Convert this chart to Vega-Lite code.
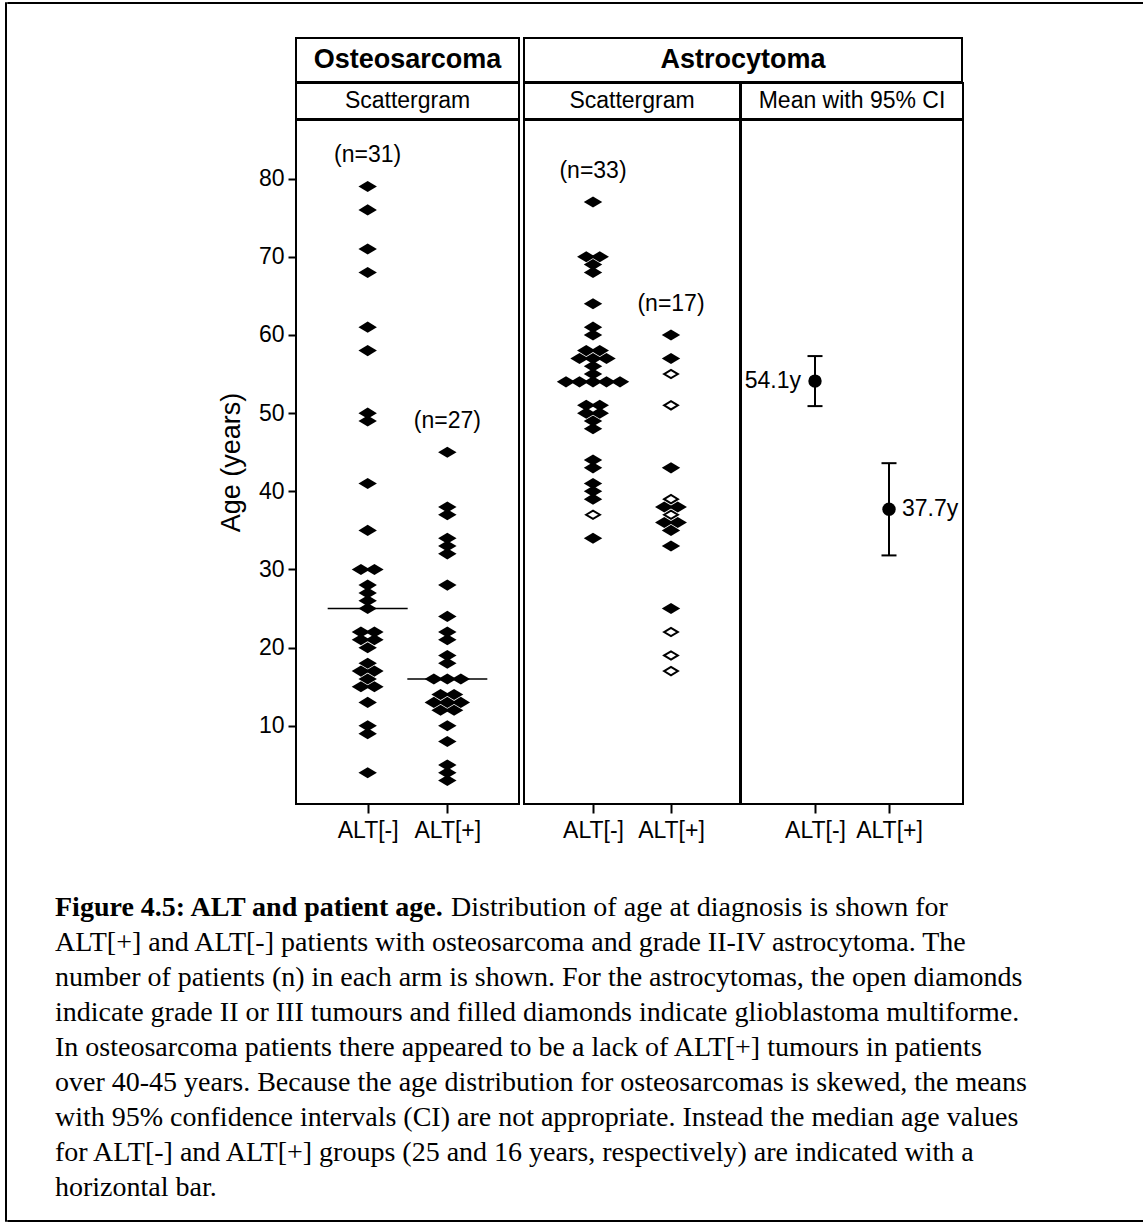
{
  "$schema": "https://vega.github.io/schema/vega-lite/v6.json",
  "background": "white",
  "padding": {"left": 4, "top": 1, "right": 0, "bottom": 0},
  "datasets": {
    "osteo": [
      {"g": "ALT[-]", "age": 79}, {"g": "ALT[-]", "age": 76}, {"g": "ALT[-]", "age": 71}, {"g": "ALT[-]", "age": 68},
      {"g": "ALT[-]", "age": 61}, {"g": "ALT[-]", "age": 58}, {"g": "ALT[-]", "age": 50}, {"g": "ALT[-]", "age": 49},
      {"g": "ALT[-]", "age": 41}, {"g": "ALT[-]", "age": 35}, {"g": "ALT[-]", "age": 30}, {"g": "ALT[-]", "age": 30},
      {"g": "ALT[-]", "age": 28}, {"g": "ALT[-]", "age": 27}, {"g": "ALT[-]", "age": 26}, {"g": "ALT[-]", "age": 25},
      {"g": "ALT[-]", "age": 22}, {"g": "ALT[-]", "age": 22}, {"g": "ALT[-]", "age": 21}, {"g": "ALT[-]", "age": 21},
      {"g": "ALT[-]", "age": 20}, {"g": "ALT[-]", "age": 18}, {"g": "ALT[-]", "age": 17}, {"g": "ALT[-]", "age": 17},
      {"g": "ALT[-]", "age": 16}, {"g": "ALT[-]", "age": 15}, {"g": "ALT[-]", "age": 15}, {"g": "ALT[-]", "age": 13},
      {"g": "ALT[-]", "age": 10}, {"g": "ALT[-]", "age": 9}, {"g": "ALT[-]", "age": 4},
      {"g": "ALT[+]", "age": 45}, {"g": "ALT[+]", "age": 38}, {"g": "ALT[+]", "age": 37}, {"g": "ALT[+]", "age": 34},
      {"g": "ALT[+]", "age": 33}, {"g": "ALT[+]", "age": 32}, {"g": "ALT[+]", "age": 28}, {"g": "ALT[+]", "age": 24},
      {"g": "ALT[+]", "age": 22}, {"g": "ALT[+]", "age": 21}, {"g": "ALT[+]", "age": 19}, {"g": "ALT[+]", "age": 18},
      {"g": "ALT[+]", "age": 16}, {"g": "ALT[+]", "age": 16}, {"g": "ALT[+]", "age": 16}, {"g": "ALT[+]", "age": 14},
      {"g": "ALT[+]", "age": 14}, {"g": "ALT[+]", "age": 13}, {"g": "ALT[+]", "age": 13}, {"g": "ALT[+]", "age": 13},
      {"g": "ALT[+]", "age": 12}, {"g": "ALT[+]", "age": 12}, {"g": "ALT[+]", "age": 10}, {"g": "ALT[+]", "age": 8},
      {"g": "ALT[+]", "age": 5}, {"g": "ALT[+]", "age": 4}, {"g": "ALT[+]", "age": 3}
    ],
    "astro": [
      {"g": "ALT[-]", "age": 77, "grade": "GBM"}, {"g": "ALT[-]", "age": 70, "grade": "GBM"}, {"g": "ALT[-]", "age": 70, "grade": "GBM"},
      {"g": "ALT[-]", "age": 69, "grade": "GBM"}, {"g": "ALT[-]", "age": 68, "grade": "GBM"}, {"g": "ALT[-]", "age": 64, "grade": "GBM"},
      {"g": "ALT[-]", "age": 61, "grade": "GBM"}, {"g": "ALT[-]", "age": 60, "grade": "GBM"}, {"g": "ALT[-]", "age": 58, "grade": "GBM"},
      {"g": "ALT[-]", "age": 58, "grade": "GBM"}, {"g": "ALT[-]", "age": 57, "grade": "GBM"}, {"g": "ALT[-]", "age": 57, "grade": "GBM"},
      {"g": "ALT[-]", "age": 57, "grade": "GBM"}, {"g": "ALT[-]", "age": 56, "grade": "GBM"}, {"g": "ALT[-]", "age": 55, "grade": "GBM"},
      {"g": "ALT[-]", "age": 54, "grade": "GBM"}, {"g": "ALT[-]", "age": 54, "grade": "GBM"}, {"g": "ALT[-]", "age": 54, "grade": "GBM"},
      {"g": "ALT[-]", "age": 54, "grade": "GBM"}, {"g": "ALT[-]", "age": 54, "grade": "GBM"}, {"g": "ALT[-]", "age": 51, "grade": "GBM"},
      {"g": "ALT[-]", "age": 51, "grade": "GBM"}, {"g": "ALT[-]", "age": 50, "grade": "GBM"}, {"g": "ALT[-]", "age": 50, "grade": "GBM"},
      {"g": "ALT[-]", "age": 49, "grade": "GBM"}, {"g": "ALT[-]", "age": 48, "grade": "GBM"}, {"g": "ALT[-]", "age": 44, "grade": "GBM"},
      {"g": "ALT[-]", "age": 43, "grade": "GBM"}, {"g": "ALT[-]", "age": 41, "grade": "GBM"}, {"g": "ALT[-]", "age": 40, "grade": "GBM"},
      {"g": "ALT[-]", "age": 39, "grade": "GBM"}, {"g": "ALT[-]", "age": 37, "grade": "II/III"}, {"g": "ALT[-]", "age": 34, "grade": "GBM"},
      {"g": "ALT[+]", "age": 60, "grade": "GBM"}, {"g": "ALT[+]", "age": 57, "grade": "GBM"}, {"g": "ALT[+]", "age": 55, "grade": "II/III"},
      {"g": "ALT[+]", "age": 51, "grade": "II/III"}, {"g": "ALT[+]", "age": 43, "grade": "GBM"}, {"g": "ALT[+]", "age": 39, "grade": "II/III"},
      {"g": "ALT[+]", "age": 38, "grade": "GBM"}, {"g": "ALT[+]", "age": 38, "grade": "GBM"}, {"g": "ALT[+]", "age": 37, "grade": "II/III"},
      {"g": "ALT[+]", "age": 36, "grade": "GBM"}, {"g": "ALT[+]", "age": 36, "grade": "GBM"}, {"g": "ALT[+]", "age": 35, "grade": "GBM"},
      {"g": "ALT[+]", "age": 33, "grade": "GBM"}, {"g": "ALT[+]", "age": 25, "grade": "GBM"}, {"g": "ALT[+]", "age": 22, "grade": "II/III"},
      {"g": "ALT[+]", "age": 19, "grade": "II/III"}, {"g": "ALT[+]", "age": 17, "grade": "II/III"}
    ],
    "astroMean": [
      {"g": "ALT[-]", "mean": 54.1, "lo": 50.9, "hi": 57.3},
      {"g": "ALT[+]", "mean": 37.7, "lo": 31.8, "hi": 43.6}
    ],
    "capLead": [{"line": 1, "text": "Figure 4.5: ALT and patient age."}],
    "capRest": [{"line": 1, "text": "Distribution of age at diagnosis is shown for"}],
    "capBody": [
      {"line": 2, "text": "ALT[+] and ALT[-] patients with osteosarcoma and grade II-IV astrocytoma. The"},
      {"line": 3, "text": "number of patients (n) in each arm is shown. For the astrocytomas, the open diamonds"},
      {"line": 4, "text": "indicate grade II or III tumours and filled diamonds indicate glioblastoma multiforme."},
      {"line": 5, "text": "In osteosarcoma patients there appeared to be a lack of ALT[+] tumours in patients"},
      {"line": 6, "text": "over 40-45 years. Because the age distribution for osteosarcomas is skewed, the means"},
      {"line": 7, "text": "with 95% confidence intervals (CI) are not appropriate. Instead the median age values"},
      {"line": 8, "text": "for ALT[-] and ALT[+] groups (25 and 16 years, respectively) are indicated with a"},
      {"line": 9, "text": "horizontal bar."}
    ]
  },
  "config": {
    "view": {"stroke": null},
    "font": "Liberation Sans",
    "text": {"color": "black"},
    "axis": {
      "domain": false, "grid": false,
      "labelColor": "black", "titleColor": "black", "tickColor": "black",
      "labelFont": "Liberation Sans", "titleFont": "Liberation Sans",
      "labelFontSize": 23, "tickWidth": 2
    }
  },
  "spacing": -3,
  "hconcat": [
    {"width": 1, "height": 1219, "view": {"stroke": "black", "strokeWidth": 1},
     "data": {"values": []}, "mark": "point"},
    {
      "spacing": 0,
      "vconcat": [
        {"width": 1136, "height": 1, "view": {"stroke": "black", "strokeWidth": 1},
         "data": {"values": []}, "mark": "point"},
        {"width": 1136, "height": 33, "data": {"values": []}, "mark": "point"},
        {
          "spacing": 0,
          "hconcat": [
            {"width": 209, "height": 1, "data": {"values": []}, "mark": "point"},
            {
              "spacing": 3,
              "hconcat": [
                {
                  "spacing": -2,
                  "vconcat": [
                    {"width": 223, "height": 44, "view": {"stroke": "black", "strokeWidth": 2},
                     "data": {"values": [{"t": "Osteosarcoma"}]},
                     "mark": {"type": "text", "fontSize": 27, "fontWeight": "bold", "baseline": "middle"},
                     "encoding": {"text": {"field": "t"}}},
                    {"width": 223, "height": 36, "view": {"stroke": "black", "strokeWidth": 2},
                     "data": {"values": [{"t": "Scattergram"}]},
                     "mark": {"type": "text", "fontSize": 23, "baseline": "middle"},
                     "encoding": {"text": {"field": "t"}}},
                    {
                      "width": 223, "height": 684,
                      "view": {"stroke": "black", "strokeWidth": 2},
                      "data": {"name": "osteo"},
                      "encoding": {
                        "x": {"field": "g", "type": "nominal",
                              "scale": {"type": "point", "domain": ["ALT[-]", "ALT[+]"], "padding": 0.9},
                              "axis": {"title": null, "orient": "bottom", "tickSize": 9, "labelPadding": 6, "labelAngle": 0}}
                      },
                      "layer": [
                        {
                          "transform": [
                            {"window": [{"op": "row_number", "as": "k"}], "groupby": ["g", "age"]},
                            {"joinaggregate": [{"op": "count", "as": "nTie"}], "groupby": ["g", "age"]},
                            {"calculate": "datum.k - (datum.nTie + 1) / 2", "as": "slot"}
                          ],
                          "mark": {"type": "point", "shape": "M -1 0 L 0 -0.6 L 1 0 L 0 0.6 Z", "filled": true, "color": "black", "opacity": 1, "size": 340},
                          "encoding": {
                            "y": {"field": "age", "type": "quantitative",
                                  "scale": {"domain": [0, 87.5], "nice": false, "zero": false},
                                  "axis": {"values": [10, 20, 30, 40, 50, 60, 70, 80], "tickSize": 8, "labelPadding": 4,
                                           "title": "Age (years)", "titleFontSize": 27, "titleFontWeight": "normal", "titlePadding": 13}},
                            "xOffset": {"field": "slot", "type": "quantitative", "scale": {"domain": [-2, 2], "range": [-27, 27]}}
                          }
                        },
                        {
                          "mark": {"type": "tick", "color": "black", "size": 80, "thickness": 1.5, "opacity": 1},
                          "encoding": {"y": {"aggregate": "median", "field": "age", "type": "quantitative"}}
                        },
                        {
                          "transform": [
                            {"aggregate": [{"op": "max", "field": "age", "as": "top"}, {"op": "count", "as": "n"}], "groupby": ["g"]},
                            {"calculate": "'(n=' + datum.n + ')'", "as": "lbl"}
                          ],
                          "mark": {"type": "text", "fontSize": 23, "baseline": "middle", "dy": -31},
                          "encoding": {"y": {"field": "top", "type": "quantitative"}, "text": {"field": "lbl"}}
                        }
                      ]
                    }
                  ]
                },
                {
                  "spacing": -2,
                  "vconcat": [
                    {"width": 438, "height": 44, "view": {"stroke": "black", "strokeWidth": 2},
                     "data": {"values": [{"t": "Astrocytoma"}]},
                     "mark": {"type": "text", "fontSize": 27, "fontWeight": "bold", "baseline": "middle"},
                     "encoding": {"text": {"field": "t"}}},
                    {
                      "spacing": -2,
                      "hconcat": [
                        {
                          "spacing": -2,
                          "vconcat": [
                            {"width": 216, "height": 36, "view": {"stroke": "black", "strokeWidth": 2},
                             "data": {"values": [{"t": "Scattergram"}]},
                             "mark": {"type": "text", "fontSize": 23, "baseline": "middle"},
                             "encoding": {"text": {"field": "t"}}},
                            {
                              "width": 216, "height": 684,
                              "view": {"stroke": "black", "strokeWidth": 2},
                              "data": {"name": "astro"},
                              "encoding": {
                                "x": {"field": "g", "type": "nominal",
                                      "scale": {"type": "point", "domain": ["ALT[-]", "ALT[+]"], "padding": 0.885},
                                      "axis": {"title": null, "orient": "bottom", "tickSize": 9, "labelPadding": 6, "labelAngle": 0}}
                              },
                              "layer": [
                                {
                                  "transform": [
                                    {"window": [{"op": "row_number", "as": "k"}], "groupby": ["g", "age"]},
                                    {"joinaggregate": [{"op": "count", "as": "nTie"}], "groupby": ["g", "age"]},
                                    {"calculate": "datum.k - (datum.nTie + 1) / 2", "as": "slot"}
                                  ],
                                  "mark": {"type": "point", "shape": "M -1 0 L 0 -0.6 L 1 0 L 0 0.6 Z", "opacity": 1, "strokeWidth": 2},
                                  "encoding": {
                                    "y": {"field": "age", "type": "quantitative",
                                          "scale": {"domain": [0, 87.5], "nice": false, "zero": false}, "axis": null},
                                    "xOffset": {"field": "slot", "type": "quantitative", "scale": {"domain": [-2, 2], "range": [-27, 27]}},
                                    "fill": {"condition": {"test": "datum.grade === 'II/III'", "value": "white"}, "value": "black"},
                                    "stroke": {"condition": {"test": "datum.grade === 'II/III'", "value": "black"}, "value": null},
                                    "size": {"condition": {"test": "datum.grade === 'II/III'", "value": 190}, "value": 340}
                                  }
                                },
                                {
                                  "transform": [
                                    {"aggregate": [{"op": "max", "field": "age", "as": "top"}, {"op": "count", "as": "n"}], "groupby": ["g"]},
                                    {"calculate": "'(n=' + datum.n + ')'", "as": "lbl"}
                                  ],
                                  "mark": {"type": "text", "fontSize": 23, "baseline": "middle", "dy": -31},
                                  "encoding": {"y": {"field": "top", "type": "quantitative",
                                                     "scale": {"domain": [0, 87.5], "nice": false, "zero": false}, "axis": null},
                                               "text": {"field": "lbl"}}
                                }
                              ]
                            }
                          ]
                        },
                        {
                          "spacing": -2,
                          "vconcat": [
                            {"width": 222, "height": 36, "view": {"stroke": "black", "strokeWidth": 2},
                             "data": {"values": [{"t": "Mean with 95% CI"}]},
                             "mark": {"type": "text", "fontSize": 23, "baseline": "middle"},
                             "encoding": {"text": {"field": "t"}}},
                            {
                              "width": 222, "height": 684,
                              "view": {"stroke": "black", "strokeWidth": 2},
                              "data": {"name": "astroMean"},
                              "encoding": {
                                "x": {"field": "g", "type": "nominal",
                                      "scale": {"type": "point", "domain": ["ALT[-]", "ALT[+]"], "padding": 1.13},
                                      "axis": {"title": null, "orient": "bottom", "tickSize": 9, "labelPadding": 6, "labelAngle": 0}}
                              },
                              "layer": [
                                {
                                  "mark": {"type": "rule", "color": "black", "strokeWidth": 2},
                                  "encoding": {
                                    "y": {"field": "lo", "type": "quantitative",
                                          "scale": {"domain": [0, 87.5], "nice": false, "zero": false}, "axis": null},
                                    "y2": {"field": "hi"}
                                  }
                                },
                                {
                                  "mark": {"type": "tick", "color": "black", "size": 15, "thickness": 2, "opacity": 1},
                                  "encoding": {"y": {"field": "lo", "type": "quantitative"}}
                                },
                                {
                                  "mark": {"type": "tick", "color": "black", "size": 15, "thickness": 2, "opacity": 1},
                                  "encoding": {"y": {"field": "hi", "type": "quantitative"}}
                                },
                                {
                                  "mark": {"type": "circle", "color": "black", "opacity": 1, "size": 180},
                                  "encoding": {"y": {"field": "mean", "type": "quantitative"}}
                                },
                                {
                                  "transform": [
                                    {"filter": "datum.g === 'ALT[-]'"},
                                    {"calculate": "format(datum.mean, '.1f') + 'y'", "as": "lbl"}
                                  ],
                                  "mark": {"type": "text", "fontSize": 23, "align": "right", "baseline": "middle", "dx": -14},
                                  "encoding": {"y": {"field": "mean", "type": "quantitative"}, "text": {"field": "lbl"}}
                                },
                                {
                                  "transform": [
                                    {"filter": "datum.g === 'ALT[+]'"},
                                    {"calculate": "format(datum.mean, '.1f') + 'y'", "as": "lbl"}
                                  ],
                                  "mark": {"type": "text", "fontSize": 23, "align": "left", "baseline": "middle", "dx": 13},
                                  "encoding": {"y": {"field": "mean", "type": "quantitative"}, "text": {"field": "lbl"}}
                                }
                              ]
                            }
                          ]
                        }
                      ]
                    }
                  ]
                }
              ]
            }
          ]
        },
        {"width": 1136, "height": 47, "data": {"values": []}, "mark": "point"},
        {
          "spacing": 0,
          "hconcat": [
            {"width": 48, "height": 1, "data": {"values": []}, "mark": "point"},
            {
              "width": 1080, "height": 315,
              "encoding": {
                "x": {"datum": 0, "type": "quantitative", "scale": {"domain": [0, 1]}, "axis": null},
                "y": {"field": "line", "type": "ordinal",
                      "scale": {"type": "point", "domain": [1, 2, 3, 4, 5, 6, 7, 8, 9], "padding": 0.5}, "axis": null},
                "text": {"field": "text"}
              },
              "layer": [
                {"data": {"name": "capLead"},
                 "mark": {"type": "text", "font": "Liberation Serif", "fontSize": 28, "fontWeight": "bold", "align": "left", "baseline": "middle"}},
                {"data": {"name": "capRest"},
                 "mark": {"type": "text", "font": "Liberation Serif", "fontSize": 28, "align": "left", "baseline": "middle", "dx": 396}},
                {"data": {"name": "capBody"},
                 "mark": {"type": "text", "font": "Liberation Serif", "fontSize": 28, "align": "left", "baseline": "middle"}}
              ]
            }
          ]
        },
        {"width": 1136, "height": 14, "data": {"values": []}, "mark": "point"},
        {"width": 1136, "height": 1, "view": {"stroke": "black", "strokeWidth": 1},
         "data": {"values": []}, "mark": "point"}
      ]
    },
    {"width": 1, "height": 1219, "view": {"stroke": "black", "strokeWidth": 1},
     "data": {"values": []}, "mark": "point"}
  ]
}
